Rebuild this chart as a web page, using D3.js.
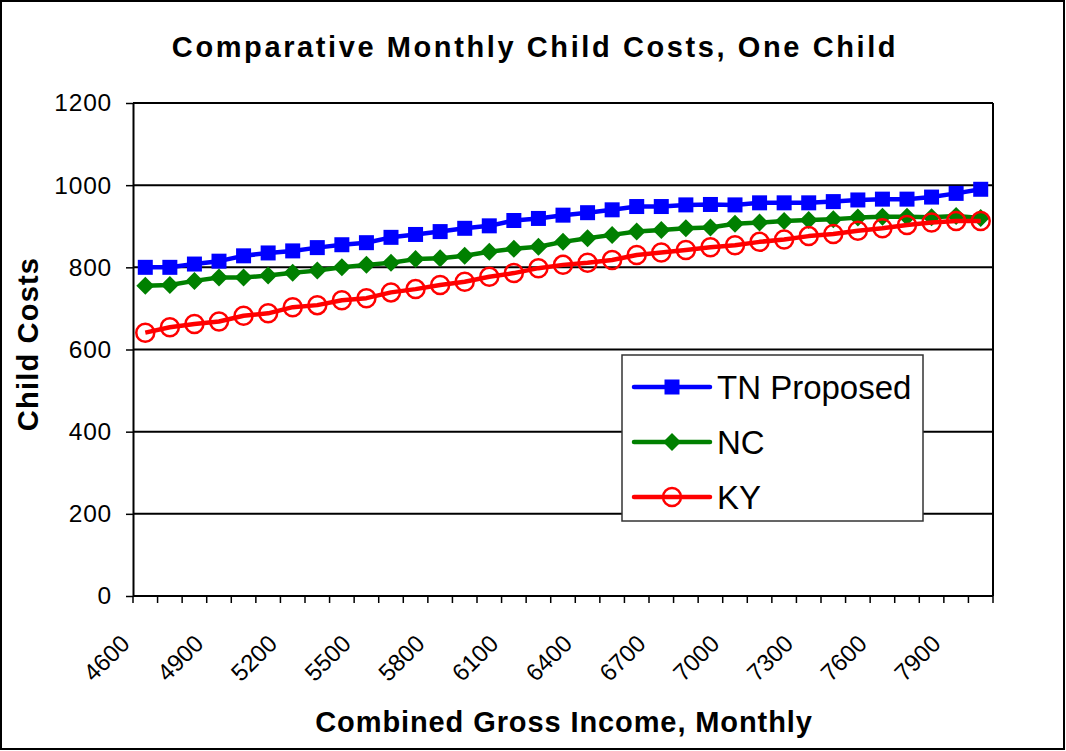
<!DOCTYPE html>
<html>
<head>
<meta charset="utf-8">
<script src="https://cdn.jsdelivr.net/npm/d3@7"></script>
<style>
  body { margin: 0; background: #fff; }
  svg { display: block; font-family: "Liberation Sans", Arial, sans-serif; }
</style>
</head>
<body>
<svg id="chart" width="1066" height="751"></svg>
<script>
const categories = [4600, 4700, 4800, 4900, 5000, 5100, 5200, 5300, 5400, 5500,
  5600, 5700, 5800, 5900, 6000, 6100, 6200, 6300, 6400, 6500, 6600, 6700, 6800,
  6900, 7000, 7100, 7200, 7300, 7400, 7500, 7600, 7700, 7800, 7900, 8000];

const tnProposed = [800, 800, 808, 815, 828, 835, 840, 848, 855, 860, 873, 880,
  887, 895, 901, 914, 919, 927, 933, 940, 948, 948, 952,
  953, 952, 957, 957, 957, 960, 964, 966, 966, 971, 980, 990];

const nc = [755, 757, 767, 775, 775, 780, 787, 792, 800, 806, 811, 820,
  822, 828, 838, 845, 850, 862, 871, 879, 887, 891, 895,
  897, 906, 909, 913, 915, 917, 921, 923, 923, 922, 925, 920];

const ky = [641, 654, 662, 668, 682, 688, 703, 708, 720, 725, 739, 747,
  757, 765, 777, 786, 798, 806, 811, 818, 830, 836, 842,
  849, 854, 862, 868, 876, 881, 889, 895, 903, 909, 913, 913];

const xTickLabels = [4600, 4900, 5200, 5500, 5800, 6100, 6400, 6700, 7000, 7300, 7600, 7900];
const yTicks = [0, 200, 400, 600, 800, 1000, 1200];

const series = [
  { name: "TN Proposed", values: tnProposed, color: "#0000ff", marker: "square" },
  { name: "NC", values: nc, color: "#008000", marker: "diamond" },
  { name: "KY", values: ky, color: "#ff0000", marker: "circle" },
];

const svg = d3.select("#chart");
const plot = { left: 133, right: 993, top: 103, bottom: 596 };

// outer frame
svg.append("rect")
  .attr("x", 1).attr("y", 1).attr("width", 1063).attr("height", 748)
  .attr("fill", "#fff").attr("stroke", "#000").attr("stroke-width", 2);

const x = d3.scaleBand().domain(categories).range([plot.left, plot.right]).padding(0);
const y = d3.scaleLinear().domain([0, 1200]).range([plot.bottom, plot.top]);
const cx = (c) => x(c) + x.bandwidth() / 2;

// gridlines
svg.append("g")
  .selectAll("line")
  .data(yTicks)
  .join("line")
  .attr("x1", plot.left).attr("x2", plot.right)
  .attr("y1", (d) => y(d)).attr("y2", (d) => y(d))
  .attr("stroke", "#000").attr("stroke-width", 2);

// right border
svg.append("line")
  .attr("x1", plot.right).attr("x2", plot.right)
  .attr("y1", plot.top).attr("y2", plot.bottom)
  .attr("stroke", "#000").attr("stroke-width", 2);

// y axis
const yAxis = svg.append("g")
  .attr("transform", `translate(${plot.left},0)`)
  .call(d3.axisLeft(y).tickValues(yTicks).tickFormat(d3.format("d"))
    .tickSize(7).tickSizeOuter(0).tickPadding(14));
yAxis.select(".domain").attr("stroke", "#000").attr("stroke-width", 2);
yAxis.selectAll(".tick line").attr("stroke", "#000").attr("stroke-width", 1.5);
yAxis.selectAll("text").attr("font-size", 24.5).attr("fill", "#000")
  .attr("letter-spacing", 0.8)
  .attr("font-family", "Liberation Sans, Arial, sans-serif");

// x axis ticks at category boundaries
const bounds = categories.map((c) => x(c)).concat([plot.right]);
svg.append("g")
  .selectAll("line")
  .data(bounds)
  .join("line")
  .attr("x1", (d) => d).attr("x2", (d) => d)
  .attr("y1", plot.bottom).attr("y2", plot.bottom + 7)
  .attr("stroke", "#000").attr("stroke-width", 1.5);

svg.append("g")
  .selectAll("text")
  .data(xTickLabels)
  .join("text")
  .attr("transform", (d) => `translate(${cx(d) - 14},${plot.bottom + 49}) rotate(-45)`)
  .attr("text-anchor", "end")
  .attr("font-size", 24)
  .text((d) => d);

// lines
const line = d3.line()
  .x((d, i) => cx(categories[i]))
  .y((d) => y(d));

function drawMarker(g, type, color) {
  if (type == "square") {
    g.append("rect").attr("x", -7.5).attr("y", -7.5).attr("width", 15).attr("height", 15)
      .attr("fill", color);
  } else if (type == "diamond") {
    g.append("path").attr("d", "M0,-9L9,0L0,9L-9,0Z").attr("fill", color);
  } else {
    g.append("circle").attr("r", 9).attr("fill", "none")
      .attr("stroke", color).attr("stroke-width", 2.5);
  }
}

series.forEach(function (s) {
  svg.append("path")
    .datum(s.values)
    .attr("d", line)
    .attr("fill", "none")
    .attr("stroke", s.color)
    .attr("stroke-width", 4.5)
    .attr("stroke-linejoin", "round");

  svg.append("g")
    .selectAll("g")
    .data(s.values)
    .join("g")
    .attr("transform", (d, i) => `translate(${cx(categories[i])},${y(d)})`)
    .each(function () {
      drawMarker(d3.select(this), s.marker, s.color);
    });
});

// legend
const legend = svg.append("g").attr("transform", "translate(622,355)");
legend.append("rect")
  .attr("width", 301).attr("height", 166)
  .attr("fill", "#fff").attr("stroke", "#333").attr("stroke-width", 1.5);

series.forEach(function (s, i) {
  const ly = 32 + i * 55;
  const row = legend.append("g").attr("transform", `translate(0,${ly})`);
  row.append("line")
    .attr("x1", 12).attr("x2", 88).attr("y1", 0).attr("y2", 0)
    .attr("stroke", s.color).attr("stroke-width", 4.5).attr("stroke-linecap", "round");
  const m = row.append("g").attr("transform", "translate(50,0)");
  drawMarker(m, s.marker, s.color);
  row.append("text")
    .attr("x", 95).attr("y", 0).attr("dy", "0.36em")
    .attr("font-size", 33)
    .text(s.name);
});

// titles
svg.append("text")
  .attr("x", 535).attr("y", 57)
  .attr("text-anchor", "middle")
  .attr("font-size", 29).attr("font-weight", "bold")
  .attr("letter-spacing", 2.6)
  .text("Comparative Monthly Child Costs, One Child");

svg.append("text")
  .attr("transform", "translate(38,344) rotate(-90)")
  .attr("text-anchor", "middle")
  .attr("font-size", 29).attr("font-weight", "bold")
  .attr("letter-spacing", 1.2)
  .text("Child Costs");

svg.append("text")
  .attr("x", 564).attr("y", 732)
  .attr("text-anchor", "middle")
  .attr("font-size", 29).attr("font-weight", "bold")
  .attr("letter-spacing", 0.9)
  .text("Combined Gross Income, Monthly");
</script>
</body>
</html>
